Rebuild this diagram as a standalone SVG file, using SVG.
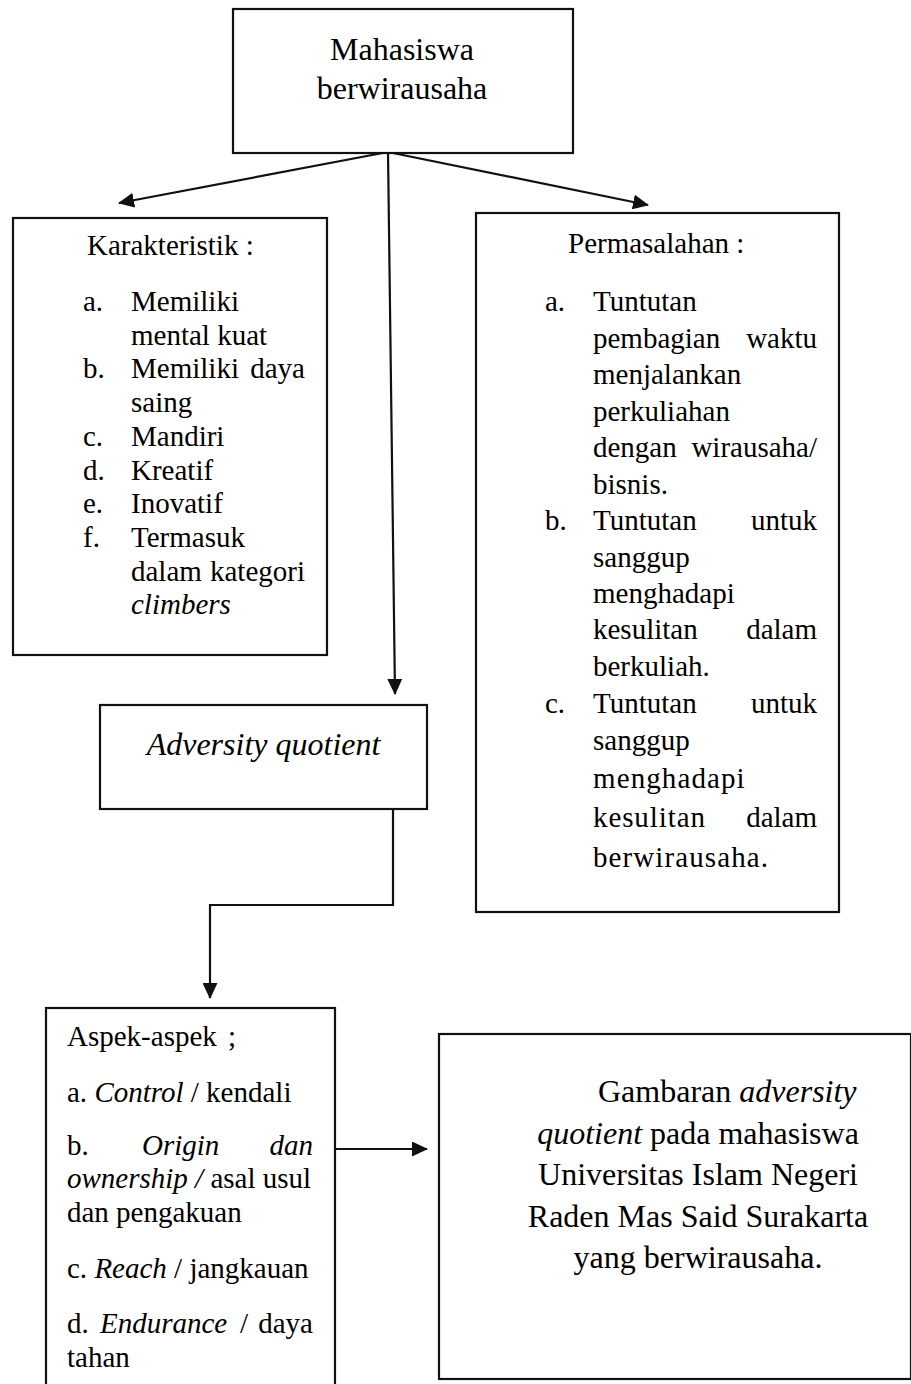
<svg xmlns="http://www.w3.org/2000/svg" width="911" height="1384" viewBox="0 0 911 1384">
<style>
.t{font-family:"Liberation Serif","Times New Roman",serif;fill:#000}
.s29{font-size:29px}
.s32{font-size:32px}
.i{font-style:italic}
.box{fill:#fff;stroke:#111;stroke-width:2.2}
.ln{fill:none;stroke:#111;stroke-width:2.2}
</style>
<defs>
<marker id="ah" markerWidth="16" markerHeight="15" refX="15" refY="7.5" orient="auto" markerUnits="userSpaceOnUse">
<path d="M0,0 L16,7.5 L0,15 z" fill="#111"/>
</marker>
</defs>
<rect width="911" height="1384" fill="#fff"/>

<g id="connectors">
<line class="ln" x1="388" y1="152" x2="119" y2="203" marker-end="url(#ah)" stroke-width="2.6"/>
<line class="ln" x1="388" y1="152" x2="648" y2="205" marker-end="url(#ah)" stroke-width="2.6"/>
<line class="ln" x1="388" y1="152" x2="395" y2="694" marker-end="url(#ah)"/>
<polyline class="ln" points="393,809 393,905 210,905 210,998" marker-end="url(#ah)"/>
<line class="ln" x1="335" y1="1149" x2="427" y2="1149" marker-end="url(#ah)"/>
</g>

<g id="node-mahasiswa">
<rect class="box" x="233" y="9" width="340" height="144"/>
<text class="t s32" x="402" y="59.5" text-anchor="middle">Mahasiswa</text>
<text class="t s32" x="402" y="99" text-anchor="middle">berwirausaha</text>
</g>

<g id="node-karakteristik">
<rect class="box" x="13" y="218" width="314" height="437"/>
<text class="t s29" x="87" y="255">Karakteristik :</text>
<text class="t s29" x="83" y="311">a.</text>
<text class="t s29" x="131" y="311">Memiliki</text>
<text class="t s29" x="131" y="344.7">mental kuat</text>
<text class="t s29" x="83" y="378.4">b.</text>
<text class="t s29" x="131" y="378.4">Memiliki</text>
<text class="t s29" x="305" y="378.4" text-anchor="end">daya</text>
<text class="t s29" x="131" y="412">saing</text>
<text class="t s29" x="83" y="445.8">c.</text>
<text class="t s29" x="131" y="445.8">Mandiri</text>
<text class="t s29" x="83" y="479.5">d.</text>
<text class="t s29" x="131" y="479.5">Kreatif</text>
<text class="t s29" x="83" y="513.2">e.</text>
<text class="t s29" x="131" y="513.2">Inovatif</text>
<text class="t s29" x="83" y="546.9">f.</text>
<text class="t s29" x="131" y="546.9">Termasuk</text>
<text class="t s29" x="131" y="580.6">dalam</text>
<text class="t s29" x="305" y="580.6" text-anchor="end">kategori</text>
<text class="t s29 i" x="131" y="614.3">climbers</text>
</g>

<g id="node-permasalahan">
<rect class="box" x="476" y="213" width="363" height="699"/>
<text class="t s29" x="568" y="253">Permasalahan :</text>
<text class="t s29" x="545" y="311">a.</text>
<text class="t s29" x="593" y="311">Tuntutan</text>
<text class="t s29" x="593" y="347.5">pembagian</text>
<text class="t s29" x="817" y="347.5" text-anchor="end">waktu</text>
<text class="t s29" x="593" y="384">menjalankan</text>
<text class="t s29" x="593" y="420.5">perkuliahan</text>
<text class="t s29" x="593" y="457">dengan</text>
<text class="t s29" x="817" y="457" text-anchor="end">wirausaha/</text>
<text class="t s29" x="593" y="493.5">bisnis.</text>
<text class="t s29" x="545" y="530">b.</text>
<text class="t s29" x="593" y="530">Tuntutan</text>
<text class="t s29" x="817" y="530" text-anchor="end">untuk</text>
<text class="t s29" x="593" y="566.5">sanggup</text>
<text class="t s29" x="593" y="603">menghadapi</text>
<text class="t s29" x="593" y="639">kesulitan</text>
<text class="t s29" x="817" y="639" text-anchor="end">dalam</text>
<text class="t s29" x="593" y="675.5">berkuliah.</text>
<text class="t s29" x="545" y="713">c.</text>
<text class="t s29" x="593" y="713">Tuntutan</text>
<text class="t s29" x="817" y="713" text-anchor="end">untuk</text>
<text class="t s29" x="593" y="750">sanggup</text>
<text class="t s29" x="593" y="788" letter-spacing="1.1">menghadapi</text>
<text class="t s29" x="593" y="827" letter-spacing="0.9">kesulitan</text>
<text class="t s29" x="817" y="827" text-anchor="end">dalam</text>
<text class="t s29" x="593" y="867" letter-spacing="1.1">berwirausaha.</text>
</g>

<g id="node-adversity">
<rect class="box" x="100" y="705" width="327" height="104"/>
<text class="t s32 i" x="263.5" y="755" text-anchor="middle">Adversity quotient</text>
</g>

<g id="node-aspek">
<rect class="box" x="46" y="1008" width="289" height="400"/>
<text class="t s29" x="67" y="1046">Aspek-aspek</text>
<text class="t s29" x="228" y="1046">;</text>
<text class="t s29" x="67" y="1101.7">a. <tspan class="i">Control</tspan> / kendali</text>
<text class="t s29" x="67" y="1155">b.</text>
<text class="t s29 i" x="142" y="1155">Origin</text>
<text class="t s29 i" x="313" y="1155" text-anchor="end">dan</text>
<text class="t s29" x="67" y="1188"><tspan class="i">ownership /</tspan> asal usul</text>
<text class="t s29" x="67" y="1221.7">dan pengakuan</text>
<text class="t s29" x="67" y="1278">c. <tspan class="i">Reach</tspan> / jangkauan</text>
<text class="t s29" x="67" y="1333">d.</text>
<text class="t s29 i" x="100" y="1333">Endurance</text>
<text class="t s29" x="240" y="1333">/</text>
<text class="t s29" x="313" y="1333" text-anchor="end">daya</text>
<text class="t s29" x="67" y="1366.7">tahan</text>
</g>

<g id="node-gambaran">
<rect class="box" x="439" y="1034" width="472" height="345"/>
<text class="t s32" x="598" y="1102">Gambaran <tspan class="i">adversity</tspan></text>
<text class="t s32" x="698" y="1143.5" text-anchor="middle"><tspan class="i">quotient</tspan> pada mahasiswa</text>
<text class="t s32" x="698" y="1185" text-anchor="middle">Universitas Islam Negeri</text>
<text class="t s32" x="698" y="1226.5" text-anchor="middle">Raden Mas Said Surakarta</text>
<text class="t s32" x="698" y="1268" text-anchor="middle">yang berwirausaha.</text>
</g>
</svg>
